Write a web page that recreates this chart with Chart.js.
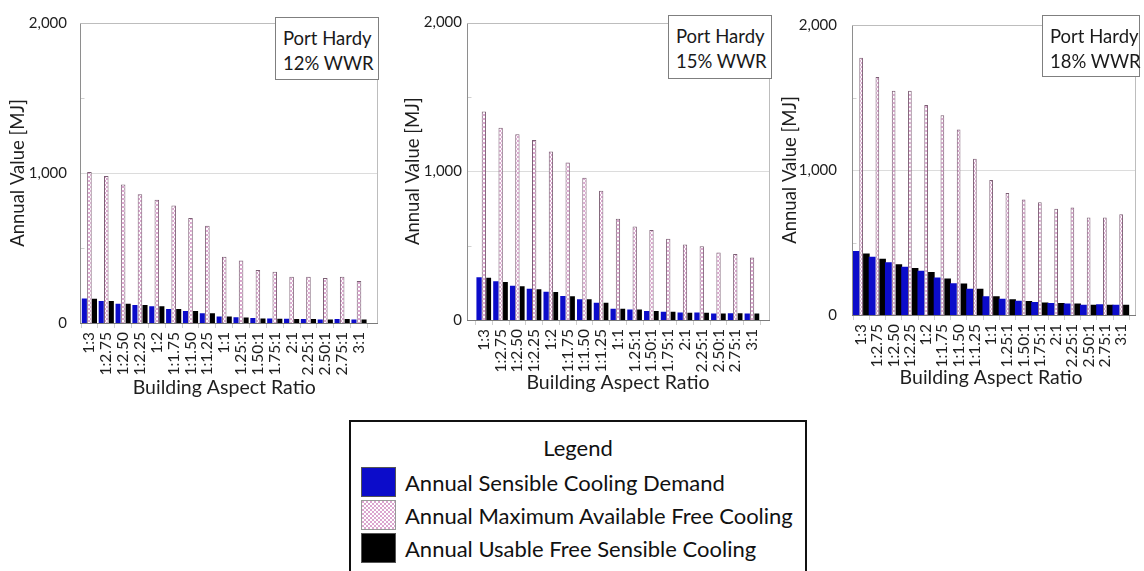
<!DOCTYPE html>
<html>
<head>
<meta charset="utf-8">
<script src="https://cdn.jsdelivr.net/npm/chart.js@4.4.1/dist/chart.umd.min.js"></script>
<style>
  html, body { margin: 0; padding: 0; background: #fff; }
  body { width: 1144px; height: 571px; position: relative; overflow: hidden;
         font-family: Lato, "Open Sans", sans-serif; color: #1a1a1a; }
  canvas.panel { position: absolute; top: 0; }
  .note { position: absolute; box-sizing: border-box; background: #fff;
          border: 1px solid #7f7f7f; font-size: 18.5px; line-height: 25px;
          padding: 8px 0 0 7px; color: #1a1a1a; white-space: nowrap; }
  #legend { position: absolute; left: 349px; top: 420px; width: 458px; height: 160px;
            box-sizing: border-box; border: 2px solid #111; background: #fff; }
  #legend .title { position: absolute; left: 0; right: 0; top: 13px; text-align: center;
                   font-size: 22px; line-height: 26px; color: #111; }
  #legend .row { position: absolute; left: 10px; height: 30px; display: flex; align-items: center; }
  #legend .sw { width: 35px; height: 30px; box-sizing: border-box; border: 1px solid #555; margin-right: 9px; }
  #legend .txt { font-size: 22px; color: #111; }
</style>
</head>
<body>
<script>
// Building aspect ratios on the category axis
const ratios = ['1:3', '1:2.75', '1:2.50', '1:2.25', '1:2', '1:1.75', '1:1.50', '1:1.25', '1:1',
                '1.25:1', '1.50:1', '1.75:1', '2:1', '2.25:1', '2.50:1', '2.75:1', '3:1'];

const seriesNames = ['Annual Sensible Cooling Demand',
                     'Annual Maximum Available Free Cooling',
                     'Annual Usable Free Sensible Cooling'];

const place = 'Port Hardy';
const wwrLabels = ['12% WWR', '15% WWR', '18% WWR'];

const yAxisTitle = 'Annual Value [MJ]';
const xAxisTitle = 'Building Aspect Ratio';
const yAxisMax = 2000;
const yAxisStep = 1000;

// Annual values [MJ], 12% window-to-wall ratio
const demand12    = [163, 146, 128, 120, 111, 93, 80, 65, 43, 39, 33, 30, 28, 26, 24, 26, 24];
const available12 = [1006, 980, 924, 859, 822, 783, 700, 648, 441, 417, 354, 341, 309, 309, 300, 309, 280];
const usable12    = [161, 146, 128, 120, 111, 93, 80, 65, 43, 37, 30, 28, 26, 26, 24, 26, 24];

// Annual values [MJ], 15% window-to-wall ratio
const demand15    = [288, 260, 231, 210, 190, 162, 140, 116, 76, 70, 61, 55, 50, 50, 44, 46, 44];
const available15 = [1402, 1293, 1249, 1210, 1133, 1059, 956, 869, 681, 629, 605, 546, 507, 496, 454, 443, 421];
const usable15    = [284, 255, 227, 207, 188, 159, 140, 116, 76, 70, 61, 55, 48, 48, 44, 46, 44];

// Annual values [MJ], 18% window-to-wall ratio
const demand18    = [442, 402, 364, 333, 306, 259, 219, 181, 129, 112, 98, 89, 83, 80, 71, 74, 71];
const available18 = [1775, 1641, 1547, 1547, 1449, 1377, 1279, 1078, 931, 842, 797, 777, 732, 741, 672, 672, 694];
const usable18    = [424, 388, 350, 324, 297, 252, 217, 181, 129, 109, 96, 87, 83, 80, 71, 71, 71];

const panelData = [
  [demand12, available12, usable12],
  [demand15, available15, usable15],
  [demand18, available18, usable18]
];

// Geometry of each panel (page pixels)
const panelLayout = [
  { canvasLeft: 0,   canvasWidth: 382, top: 17, bottom: 323, frameLeft: 80,    plotLeft: 81,    plotRight: 368.4,  frameRight: 378.5,
    yTitlePad: 7,  yTickPad: 14,   xTitlePad: 1, cat: 0.90, bars: [1.0, 0.9, 1.0],
    note: { left: 275, top: 17, width: 104, height: 63 } },
  { canvasLeft: 385, canvasWidth: 390, top: 15, bottom: 320, frameLeft: 466.5, plotLeft: 475.5, plotRight: 762.8,  frameRight: 772,
    yTitlePad: 17, yTickPad: 13.5, xTitlePad: 6, cat: 0.86, bars: [1.1, 0.9, 1.0],
    note: { left: 668, top: 15, width: 104, height: 64 } },
  { canvasLeft: 775, canvasWidth: 369, top: 15, bottom: 315, frameLeft: 852,   plotLeft: 853,   plotRight: 1134.8, frameRight: 1142,
    yTitlePad: 4,  yTickPad: 16,   xTitlePad: 11, cat: 0.97, bars: [1.3, 0.7, 1.25],
    note: { left: 1042, top: 15, width: 98, height: 62 } }
];
const canvasHeight = 400;

const blue = '#0c0cca';
const black = '#000000';
const pinkBorder = '#7c5f74';
const textColor = '#1e1e1e';
const fontFamily = 'Lato, "Open Sans", sans-serif';

// Pink/white checker fill
const tile = document.createElement('canvas');
tile.width = 4; tile.height = 4;
const tctx = tile.getContext('2d');
tctx.fillStyle = '#ffffff'; tctx.fillRect(0, 0, 4, 4);
tctx.fillStyle = '#dba6cf'; tctx.fillRect(0, 0, 2, 2); tctx.fillRect(2, 2, 2, 2);
const pinkFill = tctx.createPattern(tile, 'repeat');

// Frame, gridlines and axis lines of the plot area
const plotFrame = {
  id: 'plotFrame',
  beforeDatasetsDraw(chart, args, opts) {
    const { ctx, chartArea: a, scales: { y } } = chart;
    const L = Math.round(a.left - opts.extendLeft) + 0.5;
    const R = Math.round(a.right + opts.extendRight) - 0.5;
    const T = Math.round(a.top) + 0.5;
    const B = Math.round(a.bottom) + 0.5;
    ctx.save();
    ctx.lineWidth = 1;
    ctx.strokeStyle = '#dcdcdc';
    y.ticks.forEach(t => {
      if (t.value > y.min && t.value < y.max) {
        const py = Math.round(y.getPixelForValue(t.value)) + 0.5;
        ctx.beginPath(); ctx.moveTo(L, py); ctx.lineTo(R, py); ctx.stroke();
      }
    });
    // minor tick marks halfway between labelled ticks
    ctx.strokeStyle = '#d0d0d0';
    for (let v = yAxisStep / 2; v < y.max; v += yAxisStep) {
      const py = Math.round(y.getPixelForValue(v)) + 0.5;
      ctx.beginPath(); ctx.moveTo(L, py); ctx.lineTo(L + 4, py); ctx.stroke();
    }
    ctx.strokeStyle = '#bdbdbd';
    ctx.beginPath(); ctx.moveTo(L, T); ctx.lineTo(R, T); ctx.lineTo(R, B); ctx.stroke();
    ctx.strokeStyle = '#8e8e8e';
    ctx.beginPath(); ctx.moveTo(L, T); ctx.lineTo(L, B); ctx.stroke();
    ctx.restore();
  },
  afterDatasetsDraw(chart, args, opts) {
    const { ctx, chartArea: a } = chart;
    const L = Math.round(a.left - opts.extendLeft);
    const R = Math.round(a.right + opts.extendRight);
    const B = Math.round(a.bottom) + 0.5;
    ctx.save();
    ctx.lineWidth = 1;
    ctx.strokeStyle = '#7a7a7a';
    ctx.beginPath(); ctx.moveTo(L, B); ctx.lineTo(R, B); ctx.stroke();
    ctx.restore();
  }
};

panelLayout.forEach((p, i) => {
  const canvas = document.createElement('canvas');
  canvas.className = 'panel';
  canvas.width = p.canvasWidth;
  canvas.height = canvasHeight;
  canvas.style.left = p.canvasLeft + 'px';
  canvas.style.width = p.canvasWidth + 'px';
  canvas.style.height = canvasHeight + 'px';
  document.body.appendChild(canvas);

  const [demand, available, usable] = panelData[i];
  const yWidth = p.plotLeft - p.canvasLeft;
  const xHeight = canvasHeight - p.bottom;

  new Chart(canvas, {
    type: 'bar',
    data: {
      labels: ratios,
      datasets: [
        { label: seriesNames[0], data: demand, backgroundColor: blue, borderWidth: 0,
          categoryPercentage: p.cat, barPercentage: p.bars[0] },
        { label: seriesNames[1], data: available, backgroundColor: pinkFill, borderColor: pinkBorder, borderWidth: 1,
          categoryPercentage: p.cat, barPercentage: p.bars[1] },
        { label: seriesNames[2], data: usable, backgroundColor: black, borderWidth: 0,
          categoryPercentage: p.cat, barPercentage: p.bars[2] }
      ]
    },
    options: {
      responsive: false,
      animation: false,
      devicePixelRatio: 1,
      locale: 'en-US',
      layout: { padding: { left: 0, top: p.top, right: p.canvasLeft + p.canvasWidth - p.plotRight, bottom: 0 } },
      plugins: {
        legend: { display: false },
        tooltip: { enabled: false },
        plotFrame: { extendLeft: p.plotLeft - p.frameLeft, extendRight: p.frameRight - p.plotRight }
      },
      scales: {
        x: {
          offset: true,
          border: { display: false },
          grid: { display: true, drawOnChartArea: false, drawTicks: true, tickLength: 5, color: '#cfcfcf', offset: true },
          ticks: { autoSkip: false, minRotation: 90, maxRotation: 90, padding: 4, color: textColor,
                   font: { family: fontFamily, size: 15.5 } },
          title: { display: true, text: xAxisTitle, color: textColor, padding: { top: 0, bottom: p.xTitlePad },
                   font: { family: fontFamily, size: 19.5 } },
          afterFit(scale) { scale.height = xHeight; }
        },
        y: {
          min: 0, max: yAxisMax,
          border: { display: false },
          grid: { display: false, drawTicks: false },
          ticks: { stepSize: yAxisStep, padding: p.yTickPad, color: textColor,
                   font: { family: fontFamily, size: 15 } },
          title: { display: true, text: yAxisTitle, color: textColor, padding: { top: p.yTitlePad, bottom: 0 },
                   font: { family: fontFamily, size: 18.5 } },
          afterFit(scale) { scale.width = yWidth; }
        }
      }
    },
    plugins: [plotFrame]
  });

  const note = document.createElement('div');
  note.className = 'note';
  note.style.left = p.note.left + 'px';
  note.style.top = p.note.top + 'px';
  note.style.width = p.note.width + 'px';
  note.style.height = p.note.height + 'px';
  note.innerHTML = place + '<br>' + wwrLabels[i];
  document.body.appendChild(note);
});

// Shared legend below the panels
const legend = document.createElement('div');
legend.id = 'legend';
const lt = document.createElement('div');
lt.className = 'title';
lt.textContent = 'Legend';
legend.appendChild(lt);
const swatchStyles = [
  'background:' + blue,
  'background-color:#fff;background-image:url(' + tile.toDataURL() + ');background-size:4px 4px;border-color:#999',
  'background:' + black
];
seriesNames.forEach((name, k) => {
  const row = document.createElement('div');
  row.className = 'row';
  row.style.top = (45 + k * 33) + 'px';
  const sw = document.createElement('span');
  sw.className = 'sw';
  sw.style.cssText = swatchStyles[k];
  const tx = document.createElement('span');
  tx.className = 'txt';
  tx.textContent = name;
  row.appendChild(sw);
  row.appendChild(tx);
  legend.appendChild(row);
});
document.body.appendChild(legend);
</script>
</body>
</html>
